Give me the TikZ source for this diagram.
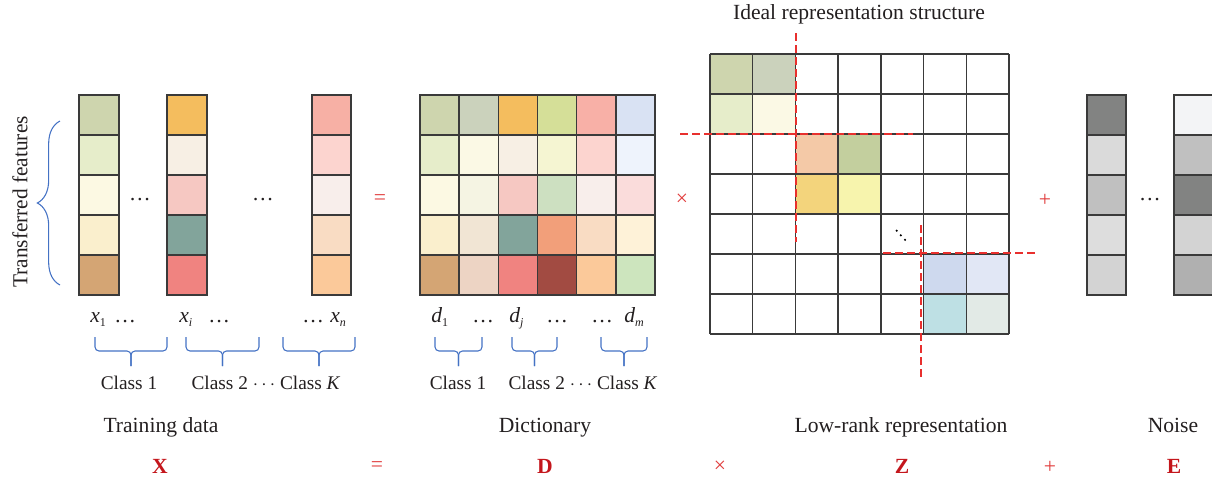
\documentclass[tikz,border=0pt]{standalone}
\usepackage{fontspec}
\setmainfont{Liberation Serif}
\usetikzlibrary{decorations.pathreplacing}
% left columns
\definecolor{a0}{HTML}{CED5AE}\definecolor{a1}{HTML}{E6EDCA}\definecolor{a2}{HTML}{FCF9E3}\definecolor{a3}{HTML}{FAEFCD}\definecolor{a4}{HTML}{D4A574}
\definecolor{b0}{HTML}{F4BD5E}\definecolor{b1}{HTML}{F7EFE4}\definecolor{b2}{HTML}{F6C8C2}\definecolor{b3}{HTML}{82A49B}\definecolor{b4}{HTML}{F08380}
\definecolor{c0}{HTML}{F7B0A5}\definecolor{c1}{HTML}{FCD4CF}\definecolor{c2}{HTML}{F8EEEB}\definecolor{c3}{HTML}{F9DCC3}\definecolor{c4}{HTML}{FBC99A}
% dictionary
\definecolor{d00}{HTML}{CED5AE}\definecolor{d01}{HTML}{CBD2BC}\definecolor{d02}{HTML}{F4BD5E}\definecolor{d03}{HTML}{D5DF98}\definecolor{d04}{HTML}{F8B0A7}\definecolor{d05}{HTML}{D9E2F3}
\definecolor{d10}{HTML}{E6EDCA}\definecolor{d11}{HTML}{FBF9E5}\definecolor{d12}{HTML}{F7EFE4}\definecolor{d13}{HTML}{F5F5D2}\definecolor{d14}{HTML}{FCD4CF}\definecolor{d15}{HTML}{EEF3FC}
\definecolor{d20}{HTML}{FCF9E3}\definecolor{d21}{HTML}{F5F4E3}\definecolor{d22}{HTML}{F6C8C2}\definecolor{d23}{HTML}{CDE0C1}\definecolor{d24}{HTML}{F8EEEB}\definecolor{d25}{HTML}{FADCDB}
\definecolor{d30}{HTML}{FAEFCD}\definecolor{d31}{HTML}{F1E5D4}\definecolor{d32}{HTML}{82A49B}\definecolor{d33}{HTML}{F29F7A}\definecolor{d34}{HTML}{F9DCC3}\definecolor{d35}{HTML}{FEF2D8}
\definecolor{d40}{HTML}{D4A574}\definecolor{d41}{HTML}{EDD4C4}\definecolor{d42}{HTML}{F08380}\definecolor{d43}{HTML}{A24B42}\definecolor{d44}{HTML}{FBC99A}\definecolor{d45}{HTML}{CDE5BE}
% Z
\definecolor{z00}{HTML}{CED5AE}\definecolor{z01}{HTML}{CBD2BC}\definecolor{z10}{HTML}{E6EDCA}\definecolor{z11}{HTML}{FBF9E5}
\definecolor{z22}{HTML}{F4C9A7}\definecolor{z23}{HTML}{C3CF9E}\definecolor{z32}{HTML}{F3D47C}\definecolor{z33}{HTML}{F7F4AD}
\definecolor{z55}{HTML}{CED9EE}\definecolor{z56}{HTML}{E1E7F5}\definecolor{z65}{HTML}{BEE0E4}\definecolor{z66}{HTML}{E2EAE6}
% noise
\definecolor{n0}{HTML}{828382}\definecolor{n1}{HTML}{DADADA}\definecolor{n2}{HTML}{C0C0C0}\definecolor{n3}{HTML}{DDDDDD}\definecolor{n4}{HTML}{D3D3D3}
\definecolor{m0}{HTML}{F3F4F6}\definecolor{m1}{HTML}{C0C0C0}\definecolor{m2}{HTML}{828382}\definecolor{m3}{HTML}{D3D3D3}\definecolor{m4}{HTML}{B0B0B0}
\definecolor{txt}{HTML}{231F20}
\definecolor{opred}{HTML}{E03A3A}
\definecolor{boldred}{HTML}{C4161C}
\definecolor{dashred}{HTML}{E8302E}
\definecolor{braceblue}{HTML}{4472C4}
\definecolor{grid}{HTML}{3A3A3A}
\newcommand{\lbl}{\fontsize{16.2}{19}\selectfont}
\newcommand{\clsf}{\fontsize{14.5}{17}\selectfont}
\newcommand{\subf}[1]{\raisebox{-3.5pt}{\fontsize{9}{9}\selectfont #1}}
\begin{document}
\begin{tikzpicture}[x=0.75pt,y=-0.75pt,
  cellline/.style={draw=grid,line width=1.1pt},
  redash/.style={draw=dashred,line width=1.3pt,dash pattern=on 6pt off 3pt},
  ubr/.style={draw=braceblue,line width=0.8pt,rounded corners=3pt},
  txtnode/.style={inner sep=0pt,text=txt,font=\lbl},
  opnode/.style={inner sep=0pt,text=opred,font=\lbl},
  bignode/.style={inner sep=0pt,text=boldred,font=\lbl\bfseries,anchor=base},
  bottomop/.style={inner sep=0pt,text=opred,font=\lbl}]
\useasboundingbox (0,0) rectangle (1212,479);

% training data columns
\foreach \i in {0,...,4}{
  \filldraw[fill=a\i,cellline] (79,{95+40*\i}) rectangle ++(40,40);
  \filldraw[fill=b\i,cellline] (167,{95+40*\i}) rectangle ++(40,40);
  \filldraw[fill=c\i,cellline] (312,{95+40*\i}) rectangle ++(39,40);
}
\node[txtnode] (dotsA) at (140,200) {…};
\node[txtnode] (dotsB) at (263,200) {…};

% transferred features brace and label
\draw[draw=braceblue,line width=0.8pt,decorate,decoration={brace,amplitude=17pt}] (60,285) -- (60,121);
\node[txtnode,rotate=90,font=\fontsize{16}{19}\selectfont] (tf) at (20,202) {Transferred features};

% dictionary
\foreach \r in {0,...,4}{
  \foreach \c in {0,...,5}{
    \filldraw[fill=d\r\c,cellline] ({420+39.17*\c},{95+40*\r}) rectangle ++(39.17,40);
  }
}

% operators middle
\node[opnode] (eq1) at (380,200) {=};
\node[opnode] (times1) at (682,200) {×};
\node[opnode] (plus1) at (1045,200) {+};

% Z matrix
\foreach \r/\c in {0/0,0/1,1/0,1/1,2/2,2/3,3/2,3/3,5/5,5/6,6/5,6/6}{
  \fill[z\r\c] ({710+42.714*\c},{54+40*\r}) rectangle ++(42.714,40);
}
\foreach \k in {0,...,7}{
  \draw[cellline] ({710+42.714*\k},54) -- ({710+42.714*\k},334);
  \draw[cellline] (710,{54+40*\k}) -- (1009,{54+40*\k});
}
\fill[black] (896.7,230.7) circle (1.2) (900.8,235.3) circle (1.2) (905,239.8) circle (1.2);
\draw[redash] (795.8,33) -- (795.8,242);
\draw[redash] (680,134) -- (913,134);
\draw[redash] (921,225) -- (921,380);
\draw[redash] (883,253) -- (1038,253);
\node[txtnode,anchor=base] (title) at (859,19.5) {Ideal representation structure};

% noise
\foreach \i in {0,...,4}{
  \filldraw[fill=n\i,cellline] (1087,{95+40*\i}) rectangle ++(39,40);
  \filldraw[fill=m\i,cellline] (1174,{95+40*\i}) rectangle ++(40,40);
}
\node[txtnode] (dotsN) at (1150,200) {…};

% column labels
\node[txtnode,anchor=base west] (x1) at (90,322) {\textit{x}\subf{1}};
\node[txtnode,anchor=base west] (x1d) at (114,322) {…};
\node[txtnode,anchor=base west] (xi) at (179,322) {\textit{x}\subf{\textit{i}}};
\node[txtnode,anchor=base west] (xid) at (208,322) {…};
\node[txtnode,anchor=base west] (xnd) at (302,322) {…};
\node[txtnode,anchor=base west] (xn) at (330,322) {\textit{x}\subf{\textit{n}}};
\node[txtnode,anchor=base west] (d1) at (431,322) {\textit{d}\subf{1}};
\node[txtnode,anchor=base west] (d1d) at (472,322) {…};
\node[txtnode,anchor=base west] (dj) at (509,322) {\textit{d}\subf{\textit{j}}};
\node[txtnode,anchor=base west] (djd) at (546,322) {…};
\node[txtnode,anchor=base west] (dmd) at (591,322) {…};
\node[txtnode,anchor=base west] (dm) at (624,322) {\textit{d}\subf{\textit{m}}};

% under braces
\foreach \a/\b in {95/167,186/259,283/355,435/482,512/557,601/647}{
  \draw[ubr] (\a,337) |- ({(\a+\b)/2},351) -- ({(\a+\b)/2},366);
  \draw[ubr] (\b,337) |- ({(\a+\b)/2},351) -- ({(\a+\b)/2},366);
}
\node[txtnode,font=\clsf,anchor=base] (cl1) at (129,389) {Class 1};
\node[txtnode,font=\clsf,anchor=base] (clK) at (266,389) {Class 2 $\cdots$ Class \textit{K}};
\node[txtnode,font=\clsf,anchor=base] (dcl1) at (458,389) {Class 1};
\node[txtnode,font=\clsf,anchor=base] (dclK) at (583,389) {Class 2 $\cdots$ Class \textit{K}};

% bottom labels
\node[txtnode,anchor=base] (ltrain) at (161,432) {Training data};
\node[txtnode,anchor=base] (ldict) at (545,432) {Dictionary};
\node[txtnode,anchor=base] (llow) at (901,432) {Low-rank representation};
\node[txtnode,anchor=base] (lnoise) at (1173,432) {Noise};
\node[bignode] (X) at (160,473) {X};
\node[bottomop] (eq2) at (377,467) {=};
\node[bignode] (D) at (545,473) {D};
\node[bottomop] (times2) at (720,467) {×};
\node[bignode] (Z) at (902,473) {Z};
\node[bottomop] (plus2) at (1050,467) {+};
\node[bignode] (E) at (1174,473) {E};
\end{tikzpicture}
\end{document}
